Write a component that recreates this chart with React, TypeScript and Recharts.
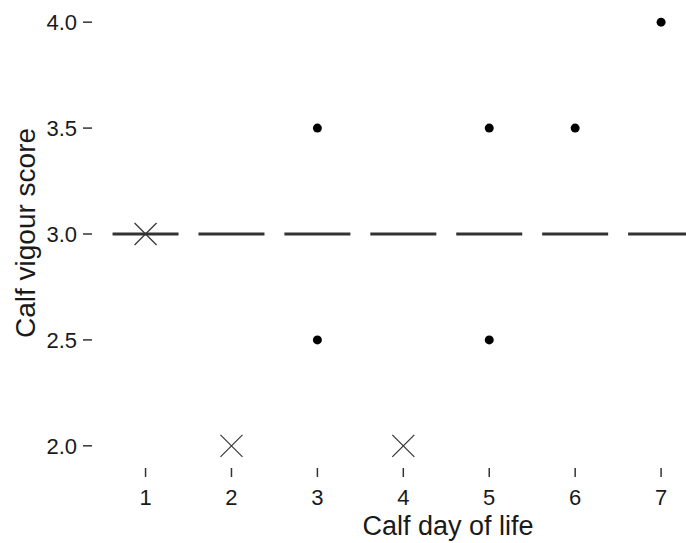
import { ComposedChart, Scatter, XAxis, YAxis } from 'recharts'

const days = [1, 2, 3, 4, 5, 6, 7]
const medianScores = [3, 3, 3, 3, 3, 3, 3]
const outlierDays = [3, 3, 5, 5, 6, 7]
const outlierScores = [3.5, 2.5, 3.5, 2.5, 3.5, 4.0]
const crossDays = [1, 2, 4]
const crossScores = [3.0, 2.0, 2.0]
const yTicks = [2.0, 2.5, 3.0, 3.5, 4.0]

const medians = days.map((d, i) => ({ day: d, score: medianScores[i] }))
const outliers = outlierDays.map((d, i) => ({ day: d, score: outlierScores[i] }))
const crosses = crossDays.map((d, i) => ({ day: d, score: crossScores[i] }))

const FONT = '"Liberation Sans", Arial, sans-serif'
const INK = '#333333'

const MedianBar = (props: any) => {
  const { cx, cy } = props
  return <line x1={cx - 33} x2={cx + 33} y1={cy} y2={cy} stroke={INK} strokeWidth={3} />
}

const Dot = (props: any) => <circle cx={props.cx} cy={props.cy} r={4.5} fill="#000" />

const Cross = (props: any) => {
  const { cx, cy } = props
  const s = 11
  return (
    <g stroke={INK} strokeWidth={1.2}>
      <line x1={cx - s} y1={cy - s} x2={cx + s} y2={cy + s} />
      <line x1={cx - s} y1={cy + s} x2={cx + s} y2={cy - s} />
    </g>
  )
}

const YTick = (props: any) => {
  const { y, payload } = props
  return (
    <g>
      <line x1={83} x2={92} y1={y} y2={y} stroke={INK} strokeWidth={1.5} />
      <text x={77} y={y} dy={8} textAnchor="end" fontFamily={FONT} fontSize={22} fill="#1a1a1a">
        {payload.value.toFixed(1)}
      </text>
    </g>
  )
}

const XTick = (props: any) => {
  const { x, payload } = props
  return (
    <g>
      <line x1={x} x2={x} y1={468} y2={477} stroke={INK} strokeWidth={1.5} />
      <text x={x} y={505} textAnchor="middle" fontFamily={FONT} fontSize={22} fill="#1a1a1a">
        {payload.value}
      </text>
    </g>
  )
}

export default function App() {
  return (
    <div style={{ position: 'absolute', left: 0, top: 0, background: '#fff' }}>
      <ComposedChart width={686} height={543} margin={{ top: 1, right: 0, bottom: 20, left: 0 }}>
        <XAxis
          dataKey="day"
          type="number"
          domain={[0.4, 7.29]}
          ticks={days}
          allowDataOverflow
          axisLine={false}
          tickLine={false}
          tick={<XTick />}
          height={56}
          interval={0}
        />
        <YAxis
          dataKey="score"
          type="number"
          domain={[1.9, 4.1]}
          ticks={yTicks}
          axisLine={false}
          tickLine={false}
          tick={<YTick />}
          width={94}
          interval={0}
        />
        <Scatter data={medians} shape={<MedianBar />} isAnimationActive={false} />
        <Scatter data={outliers} shape={<Dot />} isAnimationActive={false} />
        <Scatter data={crosses} shape={<Cross />} isAnimationActive={false} />
        <text x={448} y={535} textAnchor="middle" fontFamily={FONT} fontSize={27} fill="#1a1a1a">
          Calf day of life
        </text>
        <text
          x={35}
          y={233}
          transform="rotate(-90 35 233)"
          textAnchor="middle"
          fontFamily={FONT}
          fontSize={28}
          fill="#1a1a1a"
        >
          Calf vigour score
        </text>
      </ComposedChart>
    </div>
  )
}
